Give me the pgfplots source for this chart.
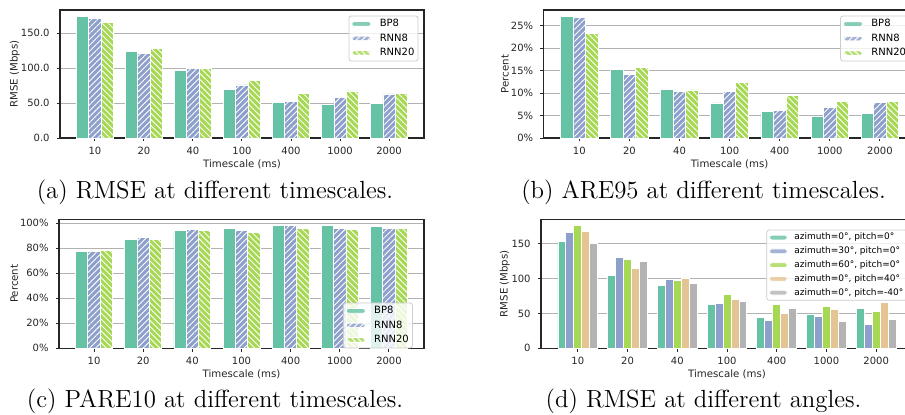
\documentclass[border=0pt]{standalone}
\usepackage{fontspec}
\newfontfamily\dv{DejaVu Sans}
\usepackage{pgfplots}
\pgfplotsset{compat=1.18}
\usetikzlibrary{patterns.meta}

\definecolor{sA}{HTML}{66C2A5}
\definecolor{sB}{HTML}{8DA0CB}
\definecolor{sC}{HTML}{A6D854}
\definecolor{sD}{HTML}{E5C494}
\definecolor{sE}{HTML}{B3B3B3}

% 1 px of the reference = 0.5pt
\pgfplotsset{
  sub/.style={
    scale only axis, ybar, bar width=0.25,
    enlargelimits=false,
    xmin=-0.7125, xmax=6.7125, ymin=0,
    xtick={0,...,6}, xticklabels={10,20,40,100,400,1000,2000},
    tick align=outside, xtick pos=left, ytick pos=left,
    major tick length=1.6pt,
    tick style={black!85, line width=0.5pt},
    axis line style={black!85, line width=0.6pt},
    ymajorgrids, major grid style={black!30, line width=0.45pt},
    tick label style={font=\dv\fontsize{5}{6}\selectfont, text=black!85, inner sep=0pt},
    xticklabel style={anchor=north, yshift=-2.5pt},
    yticklabel style={anchor=east, xshift=-3.4pt},
    xlabel style={font=\dv\fontsize{5.1}{6}\selectfont, text=black!85,
      at={(rel axis cs:0.5,0)}, anchor=center, yshift=-13pt},
    ylabel style={font=\dv\fontsize{5.1}{6}\selectfont, text=black!85, anchor=center},
    xlabel={Timescale (ms)},
    legend cell align=left,
    legend image code/.code={\draw[##1] (0pt,-1.2pt) rectangle (9.6pt,1.2pt); \path (13.2pt,0pt);},
    legend style={draw=black!20, rounded corners=1.2pt, fill=white,
      fill opacity=0.8, text opacity=1, font=\dv\fontsize{5}{6}\selectfont,
      inner xsep=1.2pt, inner ysep=1pt, row sep=1.25pt,
      nodes={inner sep=0.6pt, text height=3.7pt, text depth=1.1pt},
      at={(1,1)}, anchor=north east, xshift=-2.8pt, yshift=-2.8pt},
  },
  bp/.style={fill=sA, draw=white, line width=0.4pt},
  rn8/.style={fill=sB, draw=white, line width=0.4pt,
    postaction={pattern={Lines[angle=45,distance=2.1pt,line width=0.45pt]}, pattern color=white}},
  rn20/.style={fill=sC, draw=white, line width=0.4pt,
    postaction={pattern={Lines[angle=-45,distance=2.1pt,line width=0.45pt]}, pattern color=white}},
}

\begin{document}
\begin{tikzpicture}

% (a) RMSE
\begin{axis}[sub, at={(30pt,138pt)}, anchor=south west, width=182pt, height=64pt,
  ymax=183.2, ytick={0,50,100,150}, yticklabels={0.0,50.0,100.0,150.0},
  ylabel style={at={(rel axis cs:-0.124,0.5)}},
  ylabel={RMSE (Mbps)}]
\addplot[bp, bar shift=-0.25] coordinates {(0,174.5) (1,124.5) (2,96.2) (3,69.2) (4,50.5) (5,48.6) (6,50.0)};
\addlegendentry{BP8}
\addplot[rn8, bar shift=0] coordinates {(0,171.6) (1,121.6) (2,99.0) (3,76.0) (4,52.9) (5,57.7) (6,63.0)};
\addlegendentry{RNN8}
\addplot[rn20, bar shift=0.25] coordinates {(0,164.9) (1,128.8) (2,100.0) (3,82.7) (4,63.5) (5,67.3) (6,64.0)};
\addlegendentry{RNN20}
\end{axis}

% (b) ARE95
\begin{axis}[sub, at={(271.8pt,138pt)}, anchor=south west, width=186pt, height=64pt,
  ymax=28.5, ytick={0,5,10,15,20,25}, yticklabels={0\%,5\%,10\%,15\%,20\%,25\%},
  ylabel style={at={(rel axis cs:-0.104,0.5)}},
  ylabel={Percent}]
\addplot[bp, bar shift=-0.25] coordinates {(0,27.1) (1,15.3) (2,10.8) (3,7.8) (4,5.9) (5,4.85) (6,5.4)};
\addlegendentry{BP8}
\addplot[rn8, bar shift=0] coordinates {(0,26.8) (1,14.1) (2,10.4) (3,10.4) (4,6.1) (5,6.8) (6,7.9)};
\addlegendentry{RNN8}
\addplot[rn20, bar shift=0.25] coordinates {(0,23.2) (1,15.7) (2,10.7) (3,12.3) (4,9.5) (5,8.1) (6,8.2)};
\addlegendentry{RNN20}
\end{axis}

% (c) PARE10
\begin{axis}[sub, at={(29.5pt,32.85pt)}, anchor=south west, width=182.5pt, height=64.5pt,
  ymax=103.1, ytick={0,20,40,60,80,100}, yticklabels={0\%,20\%,40\%,60\%,80\%,100\%},
  ylabel style={at={(rel axis cs:-0.123,0.5)}},
  ylabel={Percent},
  legend style={at={(1,0)}, anchor=south east, xshift=-2.8pt, yshift=2.8pt}]
\addplot[bp, bar shift=-0.25] coordinates {(0,77.6) (1,87.1) (2,94.0) (3,95.8) (4,97.9) (5,97.9) (6,97.4)};
\addlegendentry{BP8}
\addplot[rn8, bar shift=0] coordinates {(0,77.6) (1,88.7) (2,95.0) (3,94.0) (4,98.2) (5,96.0) (6,95.5)};
\addlegendentry{RNN8}
\addplot[rn20, bar shift=0.25] coordinates {(0,78.0) (1,86.8) (2,94.2) (3,92.6) (4,95.5) (5,94.7) (6,95.5)};
\addlegendentry{RNN20}
\end{axis}

% (d) RMSE at different angles
\begin{axis}[sub, at={(270.5pt,32.85pt)}, anchor=south west, width=186pt, height=64.5pt,
  bar width=0.16, xmin=-0.74, xmax=6.74,
  ymax=185.2, ytick={0,50,100,150}, yticklabels={0,50,100,150},
  ylabel style={at={(rel axis cs:-0.097,0.5)}},
  ylabel={RMSE (Mbps)},
  legend image code/.code={\draw[#1] (0pt,-1.2pt) rectangle (8.85pt,1.2pt); \path (11.6pt,0pt);},
  legend style={font=\dv\fontsize{4.5}{5}\selectfont, yshift=-2.35pt, row sep=1.4pt,
    nodes={inner sep=0.6pt, text height=3.3pt, text depth=1.0pt}}]
\addplot[fill=sA, draw=white, line width=0.4pt, bar shift=-0.32] coordinates {(0,154.0) (1,104.8) (2,90.0) (3,62.5) (4,44.7) (5,48.0) (6,57.7)};
\addlegendentry{azimuth=0°, pitch=0°}
\addplot[fill=sB, draw=white, line width=0.4pt, bar shift=-0.16] coordinates {(0,166.0) (1,129.8) (2,99.5) (3,64.4) (4,39.4) (5,45.2) (6,34.6)};
\addlegendentry{azimuth=30°, pitch=0°}
\addplot[fill=sC, draw=white, line width=0.4pt, bar shift=0] coordinates {(0,176.4) (1,127.9) (2,98.0) (3,77.9) (4,63.0) (5,59.6) (6,53.4)};
\addlegendentry{azimuth=60°, pitch=0°}
\addplot[fill=sD, draw=white, line width=0.4pt, bar shift=0.16] coordinates {(0,168.0) (1,114.4) (2,101.0) (3,70.7) (4,50.5) (5,55.3) (6,66.3)};
\addlegendentry{azimuth=0°, pitch=40°}
\addplot[fill=sE, draw=white, line width=0.4pt, bar shift=0.32] coordinates {(0,151.0) (1,125.0) (2,92.8) (3,66.8) (4,56.7) (5,39.0) (6,40.9)};
\addlegendentry{azimuth=0°, pitch=-40°}
\end{axis}

\begin{scope}[font=\fontsize{12.4}{14}\selectfont]
\node[anchor=base] at (107.5pt,107.8pt) {(a) RMSE at different timescales.};
\node[anchor=base] at (351.75pt,107.8pt) {(b) ARE95 at different timescales.};
\node[anchor=base] at (107.5pt,3.3pt) {(c) PARE10 at different timescales.};
\node[anchor=base] at (351.75pt,3.3pt) {(d) RMSE at different angles.};
\end{scope}

\pgfresetboundingbox
\useasboundingbox (0pt,0pt) rectangle (452.5pt,207pt);
\end{tikzpicture}
\end{document}
